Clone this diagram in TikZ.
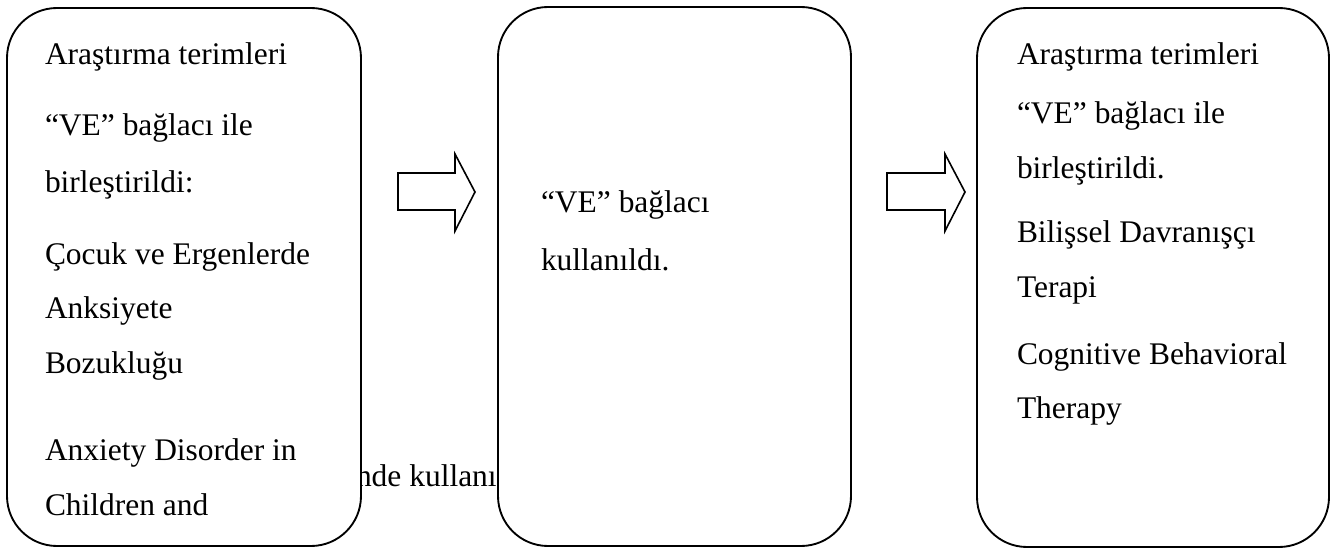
\documentclass[tikz,border=0pt]{standalone}
\usepackage{fontspec}
\setmainfont{Liberation Serif}
\begin{document}
\begin{tikzpicture}[x=0.75pt,y=-0.75pt,
  roundbox/.style={draw=black,line width=1.4pt,fill=white,rounded corners=37.5pt},
  blockarrow/.style={draw=black,line width=1.2pt,fill=white,line join=miter},
  txt/.style={anchor=base west,inner sep=0pt,outer sep=0pt,font=\fontsize{23.6}{28}\selectfont}]
\useasboundingbox (0,0) rectangle (1332,549);
% text lying under the boxes
\node[txt] (under) at (356,486) {nde kullanı};
% boxes
\draw[roundbox] (7,8) rectangle (361,546);
\draw[roundbox] (498,7) rectangle (851,546);
\draw[roundbox] (977,8) rectangle (1329,547);
% block arrows
\draw[blockarrow] (398,173) -- (455,173) -- (455,154) -- (475,192) -- (455,231) -- (455,210) -- (398,210) -- cycle;
\draw[blockarrow] (887,173) -- (945,173) -- (945,154) -- (965,192) -- (945,231) -- (945,210) -- (887,210) -- cycle;
% box 1 text
\node[txt] (a1) at (45,65) {Araştırma terimleri};
\node[txt] (a2) at (45,136) {“VE” bağlacı ile};
\node[txt] (a3) at (45,193) {birleştirildi:};
\node[txt] (a4) at (45,264) {Çocuk ve Ergenlerde};
\node[txt] (a5) at (45,318) {Anksiyete};
\node[txt] (a6) at (45,373) {Bozukluğu};
\node[txt] (a7) at (45,460) {Anxiety Disorder in};
\node[txt] (a8) at (45,515) {Children and};
% box 2 text
\node[txt] (b1) at (541,213) {“VE” bağlacı};
\node[txt] (b2) at (541,271) {kullanıldı.};
% box 3 text
\node[txt] (c1) at (1017,65) {Araştırma terimleri};
\node[txt] (c2) at (1017,124) {“VE” bağlacı ile};
\node[txt] (c3) at (1017,179) {birleştirildi.};
\node[txt] (c4) at (1017,243) {Bilişsel Davranışçı};
\node[txt] (c5) at (1017,297) {Terapi};
\node[txt] (c6) at (1017,364) {Cognitive Behavioral};
\node[txt] (c7) at (1017,418) {Therapy};
\end{tikzpicture}
\end{document}
